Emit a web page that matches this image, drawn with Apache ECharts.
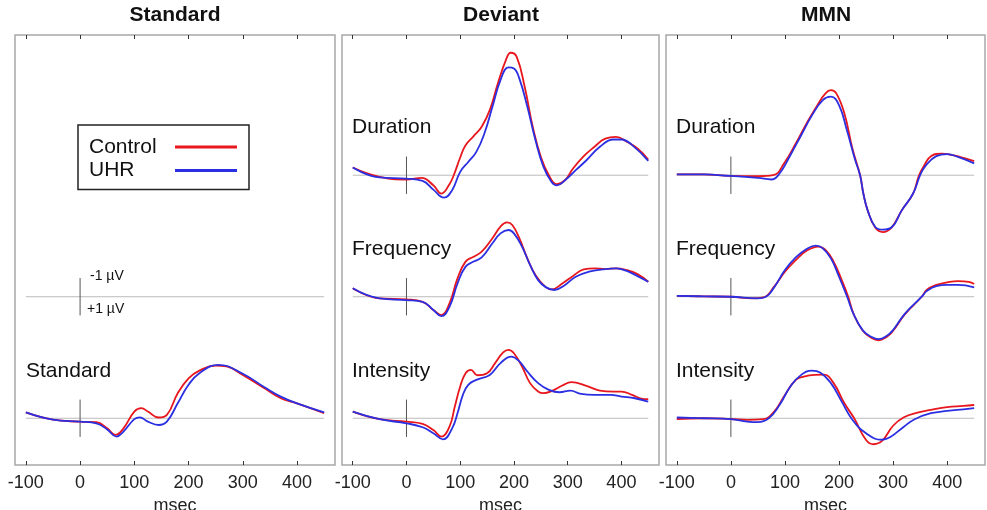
<!DOCTYPE html>
<html>
<head>
<meta charset="utf-8">
<script src="https://cdn.jsdelivr.net/npm/echarts@6/dist/echarts.min.js"></script>
<style>
html,body{margin:0;padding:0;background:#fff;}
#chart{width:987px;height:510px;}
</style>
</head>
<body>
<div id="chart"></div>
<script>
// ---------- data ----------
const panelTitles = ['Standard', 'Deviant', 'MMN'];
const timeTicks = [-100, 0, 100, 200, 300, 400];
const rowOffsets = [0, 6.5, 13];            // µV offsets of stacked rows (negative up)
const rowNames = ['Duration', 'Frequency', 'Intensity'];
const legendNames = ['Control', 'UHR'];

// Standard (panel 1, bottom row)
const stdCtrlT = [-100,-50,0,30,50,65,80,100,113,125,145,160,180,200,220,250,270,300,340,370,400,450];
const stdCtrlV = [-0.32,0.07,0.18,0.21,0.54,0.89,0.54,-0.36,-0.54,-0.36,-0.04,-0.18,-1.34,-2.14,-2.55,-2.82,-2.77,-2.32,-1.6,-1.07,-0.8,-0.27];
const stdUhrT = [-100,-50,0,30,50,67,80,100,110,125,145,160,180,200,220,255,300,340,370,400,450];
const stdUhrV = [-0.32,0.07,0.18,0.27,0.6,0.98,0.71,0.05,-0.05,0.18,0.36,0.18,-0.8,-1.79,-2.41,-2.86,-2.38,-1.66,-1.16,-0.8,-0.32];

// Deviant
const devDurCtrlT = [-100,-50,0,28,50,65,80,88,100,110,125,140,155,170,185,194,205,220,235,250,265,280,295,310,330,350,370,390,410,430,450];
const devDurCtrlV = [-0.41,0.09,0.23,0.14,0.54,0.98,0.48,0,-0.95,-1.6,-2.09,-2.59,-3.48,-4.9,-6.16,-6.55,-6.34,-4.73,-2.59,-0.98,0,0.48,0.27,-0.36,-1.02,-1.52,-1.96,-2.05,-1.79,-1.43,-0.84];
const devDurUhrT = [-100,-50,0,30,50,70,85,100,115,130,145,160,175,190,200,210,225,240,255,270,280,295,315,335,360,385,400,420,450];
const devDurUhrV = [-0.41,0.12,0.18,0.3,0.77,1.2,0.8,-0.18,-0.71,-1.25,-2.23,-3.66,-5.09,-5.77,-5.71,-5.18,-3.66,-1.88,-0.45,0.36,0.54,0.27,-0.27,-0.8,-1.52,-1.91,-1.91,-1.61,-0.77];

const devFrqCtrlT = [-100,-50,0,30,50,65,80,95,110,125,140,160,175,187,197,210,225,240,258,270,290,310,330,350,370,390,410,430,450];
const devFrqCtrlV = [-0.45,0.09,0.14,0.27,0.71,0.98,0.36,-0.98,-1.88,-2.14,-2.41,-3.13,-3.75,-3.98,-3.84,-3.13,-2.05,-1.16,-0.54,-0.39,-0.71,-1.11,-1.46,-1.52,-1.48,-1.52,-1.43,-1.21,-0.8];
const devFrqUhrT = [-100,-50,0,30,50,65,80,95,110,125,140,160,175,190,200,215,230,245,260,275,295,315,340,365,390,410,430,450];
const devFrqUhrV = [-0.45,0.09,0.18,0.27,0.71,1.04,0.54,-0.71,-1.61,-1.88,-2.1,-2.86,-3.39,-3.57,-3.39,-2.68,-1.7,-0.89,-0.5,-0.36,-0.63,-1.07,-1.34,-1.46,-1.52,-1.38,-1.1,-0.8];

const devIntCtrlT = [-100,-50,0,30,50,65,80,90,100,110,120,132,150,165,180,190,200,215,230,245,255,270,290,307,335,360,385,400,420,435,450];
const devIntCtrlV = [-0.36,0.05,0.18,0.3,0.63,0.98,0.45,-0.63,-1.7,-2.41,-2.59,-2.3,-2.41,-2.95,-3.52,-3.66,-3.48,-2.77,-1.88,-1.43,-1.34,-1.45,-1.75,-1.93,-1.73,-1.48,-1.43,-1.43,-1.25,-1.07,-1.02];
const devIntUhrT = [-100,-50,0,30,50,68,85,95,105,115,130,155,175,195,210,225,245,265,285,305,325,350,380,400,425,450];
const devIntUhrV = [-0.36,0.05,0.27,0.48,0.8,1.13,0.54,-0.27,-1.25,-1.79,-2.05,-2.32,-2.95,-3.3,-3.04,-2.5,-1.88,-1.52,-1.39,-1.48,-1.3,-1.25,-1.25,-1.16,-1.07,-0.89];

// MMN
const mmnDurCtrlT = [-100,-50,0,50,78,100,120,140,160,175,185,195,210,225,239,245,253,267,281,297,316,337,348,358,370,390,410,430,450];
const mmnDurCtrlV = [-0.05,-0.04,0.04,0.05,0,-0.71,-1.7,-2.77,-3.75,-4.38,-4.55,-4.38,-3.3,-1.4,0,0.98,1.88,2.8,3.04,2.8,1.88,0.98,0,-0.55,-1.02,-1.16,-1.07,-0.93,-0.75];
const mmnDurUhrT = [-100,-50,0,50,75,90,110,130,150,170,185,200,215,230,239,245,253,267,281,298,316,337,350,360,380,400,420,450];
const mmnDurUhrV = [-0.05,-0.04,0.04,0.14,0.23,-0.09,-1.07,-2.14,-3.2,-4.02,-4.2,-3.75,-2.36,-0.8,0,0.98,1.88,2.77,2.91,2.77,1.88,0.98,0,-0.5,-1.02,-1.13,-0.98,-0.63];

const mmnFrqCtrlT = [-100,-50,0,40,60,80,100,120,140,162,175,190,205,217,227,244,260,273,288,300,322,353,362,380,400,420,440,450];
const mmnFrqCtrlV = [-0.05,-0.02,0,0.09,0.04,-0.54,-1.34,-1.96,-2.46,-2.68,-2.5,-1.88,-0.89,0,0.93,1.82,2.2,2.33,2.15,1.82,0.93,0,-0.36,-0.63,-0.77,-0.84,-0.8,-0.68];
const mmnFrqUhrT = [-100,-50,0,50,65,80,100,120,140,157,170,185,200,215,227,244,260,273,288,300,322,353,362,380,400,420,450];
const mmnFrqUhrV = [-0.05,-0.02,0,0.09,0,-0.5,-1.43,-2.1,-2.55,-2.73,-2.59,-2.05,-1.07,0,0.93,1.8,2.15,2.27,2.1,1.78,0.9,0,-0.3,-0.57,-0.63,-0.63,-0.5];

const mmnIntCtrlT = [-100,-50,0,30,60,80,100,120,135,155,172,190,210,228,250,264,280,300,320,345,370,400,430,450];
const mmnIntCtrlV = [0.04,0,0.04,0.09,0.05,-0.36,-1.25,-2.05,-2.23,-2.32,-2.33,-1.88,-0.8,0,1.16,1.39,1.2,0.4,-0.05,-0.3,-0.45,-0.6,-0.66,-0.71];
const mmnIntUhrT = [-100,-50,0,30,50,70,90,110,130,150,165,185,205,225,250,279,295,320,340,370,400,430,450];
const mmnIntUhrV = [-0.04,0,0.05,0.18,0.21,0,-0.71,-1.7,-2.32,-2.55,-2.45,-1.88,-0.89,0.09,0.8,1.15,1.0,0.45,0.05,-0.27,-0.39,-0.48,-0.54];

// ---------- chart ----------
const RED = '#e8161d', BLUE = '#2b2fe2';
const FONT = '"Liberation Sans", Arial, sans-serif';
const chart = echarts.init(document.getElementById('chart'));

const grids = [
  {left: 15, top: 35, width: 320, height: 430},
  {left: 342, top: 35, width: 317, height: 430},
  {left: 666, top: 35, width: 319, height: 430}
].map(g => Object.assign(g, {show: true, borderColor: '#a8a8a8', borderWidth: 1.5, backgroundColor: 'transparent',
  containLabel: false, outerBoundsMode: 'none'}));

const xAxes = [];
[0, 1, 2].forEach(i => xAxes.push({
  type: 'value', gridIndex: i, position: 'bottom', min: -120, max: 470,
  axisLine: {show: false, onZero: false}, splitLine: {show: false},
  axisTick: {show: true, inside: true, length: 4, customValues: timeTicks, lineStyle: {color: '#333', width: 1}},
  axisLabel: {show: true, customValues: timeTicks, margin: 9, fontSize: 18, color: '#222', fontFamily: FONT},
  name: 'msec', nameLocation: 'middle', nameGap: 26,
  nameTextStyle: {fontSize: 18, color: '#222', fontFamily: FONT}
}));
[0, 1, 2].forEach(i => xAxes.push({
  type: 'value', gridIndex: i, position: 'top', min: -120, max: 470,
  axisLine: {show: false, onZero: false}, splitLine: {show: false},
  axisTick: {show: true, inside: true, length: 4, customValues: timeTicks, lineStyle: {color: '#333', width: 1}},
  axisLabel: {show: false}
}));
const yAxes = [0, 1, 2].map(i => ({
  type: 'value', gridIndex: i, inverse: true, min: -7.5, max: 15.5, show: false,
  axisLine: {onZero: false}
}));

const series = [];
function refLines(g, row) {
  const off = rowOffsets[row];
  series.push({
    type: 'line', xAxisIndex: g, yAxisIndex: g, silent: true, symbol: 'none', z: 1,
    data: [[-100, off], [450, off]], lineStyle: {color: '#bcbcbc', width: 1}
  });
  series.push({
    type: 'line', xAxisIndex: g, yAxisIndex: g, silent: true, symbol: 'none', z: 1,
    data: [[0, off - 1], [0, off + 1]], lineStyle: {color: '#555', width: 1}
  });
}
function curve(name, T, V, g, row, color) {
  const off = rowOffsets[row];
  series.push({
    type: 'line', name: name, xAxisIndex: g, yAxisIndex: g, symbol: 'none', smooth: 0.45,
    data: T.map((t, i) => [t, V[i] + off]), z: color === BLUE ? 3 : 2,
    lineStyle: {color: color, width: 1.8}, itemStyle: {color: color}
  });
}

// panel 1
refLines(0, 1);
refLines(0, 2);
curve('Control', stdCtrlT, stdCtrlV, 0, 2, RED);
curve('UHR', stdUhrT, stdUhrV, 0, 2, BLUE);
// panel 2
[[devDurCtrlT, devDurCtrlV, devDurUhrT, devDurUhrV],
 [devFrqCtrlT, devFrqCtrlV, devFrqUhrT, devFrqUhrV],
 [devIntCtrlT, devIntCtrlV, devIntUhrT, devIntUhrV]].forEach((d, r) => {
  refLines(1, r);
  curve('Control', d[0], d[1], 1, r, RED);
  curve('UHR', d[2], d[3], 1, r, BLUE);
});
// panel 3
[[mmnDurCtrlT, mmnDurCtrlV, mmnDurUhrT, mmnDurUhrV],
 [mmnFrqCtrlT, mmnFrqCtrlV, mmnFrqUhrT, mmnFrqUhrV],
 [mmnIntCtrlT, mmnIntCtrlV, mmnIntUhrT, mmnIntUhrV]].forEach((d, r) => {
  refLines(2, r);
  curve('Control', d[0], d[1], 2, r, RED);
  curve('UHR', d[2], d[3], 2, r, BLUE);
});

const titleCenters = [175, 501, 826];
const labelText = (text, x, y, size) => ({
  type: 'text', left: x, top: y - size * 0.6, silent: true,
  style: {text: text, fontSize: size, fontFamily: FONT, fill: '#111'}
});
const rowLabelY = [129.5, 251.5, 373];
const graphics = [
  labelText('Standard', 26, rowLabelY[2], 21),
  labelText('-1 µV', 90, 277.5, 14),
  labelText('+1 µV', 87, 311, 14)
];
rowNames.forEach((n, r) => {
  graphics.push(labelText(n, 352, rowLabelY[r], 21));
  graphics.push(labelText(n, 676, rowLabelY[r], 21));
});

chart.setOption({
  animation: false,
  backgroundColor: '#fff',
  title: panelTitles.map((t, i) => ({
    text: t, left: titleCenters[i], top: 5, textAlign: 'center', padding: 0,
    textStyle: {fontSize: 21, fontWeight: 'bold', color: '#111', fontFamily: FONT}
  })),
  legend: {
    data: legendNames, orient: 'vertical', left: 78, top: 125, align: 'right',
    padding: [11, 12, 8, 11], itemWidth: 62, itemHeight: 3, itemGap: 1.5, icon: 'rect',
    borderColor: '#222', borderWidth: 1.5, backgroundColor: '#fff',
    formatter: name => '{n|' + name + '}',
    textStyle: {fontSize: 21, color: '#111', fontFamily: FONT, lineHeight: 22,
      rich: {n: {fontSize: 21, fontFamily: FONT, color: '#111', width: 81, align: 'left', lineHeight: 22}}},
    selectedMode: true
  },
  grid: grids,
  xAxis: xAxes,
  yAxis: yAxes,
  series: series,
  graphic: graphics
});
</script>
</body>
</html>
